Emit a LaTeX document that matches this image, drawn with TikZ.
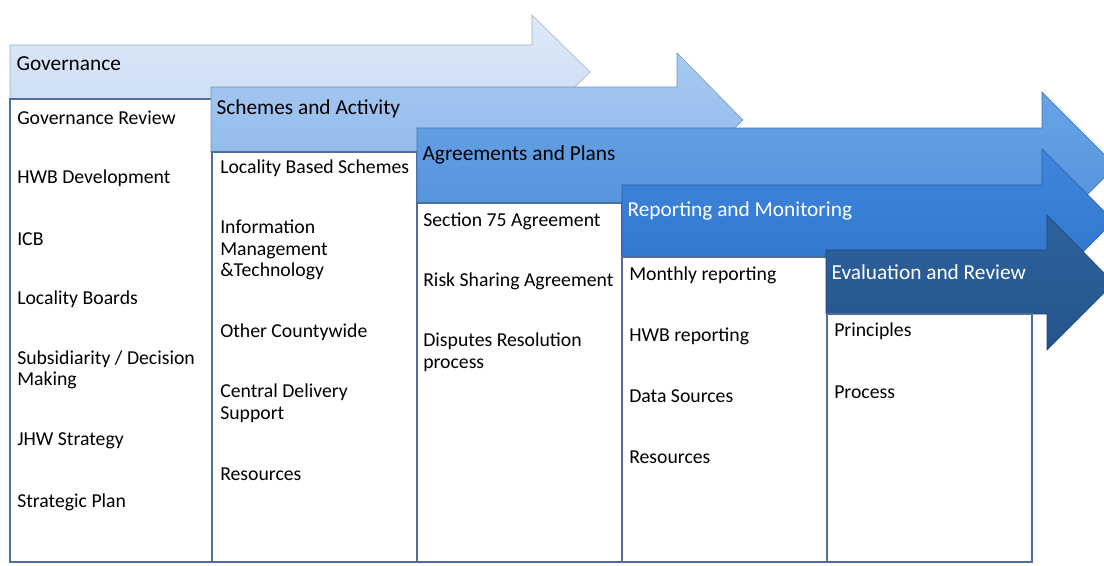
\documentclass[tikz,border=0pt]{standalone}
\usepackage{fontspec}
\setmainfont{Carlito}
\definecolor{govfill}{HTML}{C9DBF2}
\definecolor{govtop}{HTML}{DDE9F8}
\definecolor{schfill}{HTML}{8DB7EA}
\definecolor{schtop}{HTML}{A8CAF2}
\definecolor{agrfill}{HTML}{5190DA}
\definecolor{agrtop}{HTML}{68A3E6}
\definecolor{repfill}{HTML}{2F74CC}
\definecolor{reptop}{HTML}{3F86DB}
\definecolor{evafill}{HTML}{24548C}
\definecolor{evatop}{HTML}{2E639E}
\definecolor{boxline}{HTML}{4F6E9C}
\begin{document}
\begin{tikzpicture}[x=0.75pt, y=-0.75pt,
  bar/.style={draw=#1fill!80!black, line width=0.4pt},
  listbox/.style={draw=boxline, fill=white, line width=0.8pt},
  title/.style={anchor=west, inner xsep=4pt, font=\fontsize{16}{18}\selectfont},
  item/.style={anchor=west, align=left, inner sep=0pt, font=\fontsize{14.8}{16.2}\selectfont}]
\useasboundingbox (0,0) rectangle (1104,565);

% Governance
\draw[bar=gov, top color=govtop, bottom color=govfill]
  (10,45) -- (532,45) -- (532,15) -- (590,72) -- (532,129) -- (532,99) -- (10,99) -- cycle;
\node[title] (govtitle) at (11,64) {Governance};
\draw[listbox] (10,99) rectangle (212,562);
\node[item] (gov1) at (17,118) {Governance Review};
\node[item] (gov2) at (17,178) {HWB Development};
\node[item] (gov3) at (17,239) {ICB};
\node[item] (gov4) at (17,299) {Locality Boards};
\node[item] (gov5) at (17,370) {Subsidiarity / Decision\\Making};
\node[item] (gov6) at (17,441) {JHW Strategy};
\node[item] (gov7) at (17,502) {Strategic Plan};

% Schemes and Activity
\draw[bar=sch, top color=schtop, bottom color=schfill]
  (211,87) -- (677,87) -- (677,53) -- (743,120) -- (677,187) -- (677,152) -- (211,152) -- cycle;
\node[title] (schtitle) at (211,109) {Schemes and Activity};
\draw[listbox] (212,152) rectangle (417,562);
\node[item] (sch1) at (220,168) {Locality Based Schemes};
\node[item] (sch2) at (220,250) {Information\\Management\\\&Technology};
\node[item] (sch3) at (220,332) {Other Countywide};
\node[item] (sch4) at (220,403) {Central Delivery\\Support};
\node[item] (sch5) at (220,474) {Resources};

% Agreements and Plans
\draw[bar=agr, top color=agrtop, bottom color=agrfill]
  (417,128) -- (1042,128) -- (1042,92) -- (1116,166) -- (1042,240) -- (1042,203) -- (417,203) -- cycle;
\node[title] (agrtitle) at (417,155) {Agreements and Plans};
\draw[listbox] (417,203) rectangle (622,562);
\node[item] (agr1) at (423,221) {Section 75 Agreement};
\node[item] (agr2) at (423,281) {Risk Sharing Agreement};
\node[item] (agr3) at (423,352) {Disputes Resolution\\process};

% Reporting and Monitoring
\draw[bar=rep, top color=reptop, bottom color=repfill]
  (622,185) -- (1042,185) -- (1042,149) -- (1114,221) -- (1042,293) -- (1042,257) -- (622,257) -- cycle;
\node[title, text=white] (reptitle) at (622,211) {Reporting and Monitoring};
\draw[listbox] (622,257) rectangle (827,562);
\node[item] (rep1) at (629,275) {Monthly reporting};
\node[item] (rep2) at (629,336) {HWB reporting};
\node[item] (rep3) at (629,396) {Data Sources};
\node[item] (rep4) at (629,457) {Resources};

% Evaluation and Review
\draw[bar=eva, top color=evatop, bottom color=evafill]
  (826,250) -- (1047,250) -- (1047,215) -- (1114,283) -- (1047,350) -- (1047,314) -- (826,314) -- cycle;
\node[title, text=white] (evatitle) at (826,272) {Evaluation and Review};
\draw[listbox] (827,314) rectangle (1032,562);
\node[item] (eva1) at (834,331) {Principles};
\node[item] (eva2) at (834,392) {Process};
\end{tikzpicture}
\end{document}
